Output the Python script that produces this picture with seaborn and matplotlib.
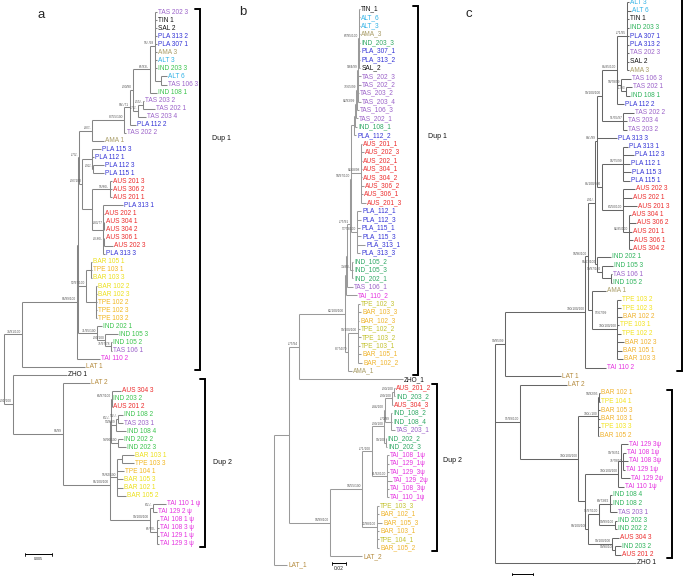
import matplotlib
matplotlib.use("Agg")
import matplotlib.pyplot as plt
import seaborn as sns
from matplotlib.collections import LineCollection

# ---- trees (newick-like, branch lengths in tree units) ----
TREE_A = (
    "(" * 11 + "TAS 202 3:2,TIN 1:2,SAL 2:2,PLA 313 2:2,PLA 307 1:2,AMA 3:2,ALT 3:2,IND 203 3:2,"
    "(ALT 6:6,TAS 106 3:6):6)55/-/98:5,IND 108 1:7)65/83/-:17,"
    "((TAS 203 2:1,TAS 202 1:12)-/55/-:5,TAS 203 4:8)-/72/-:5)-/90/90:3,PLA 112 2:6)90/-/71:6,"
    "TAS 202 2:2)87/55/100:32,AMA 1:12)-/87/-:13,"
    "((PLA 115 3:9,PLA 112 1:2,(PLA 112 3:11,PLA 115 1:11)-/92/-:1):10,"
    "((AUS 201 3:2,AUS 306 2:2,AUS 201 1:2)55/80/-:18,(PLA 313 1:20,AUS 202 1:1,"
    "(AUS 304 1:0.5,AUS 304 2:0.5)-/83/77:1,(AUS 306 1:0.5,AUS 202 3:9)-/0.80/-:1,PLA 313 3:2):11):10)-/97/100:3)-/73/-:1,"
    "((BAR 105 1:1,TPE 103 1:1,BAR 103 3:1):5,(BAR 102 2:1,BAR 102 3:1,TPE 102 2:1,TPE 102 3:1,TPE 103 2:1):10)52/97/100:8,"
    "(IND 202 1:5,(IND 105 3:13,(IND 105 2:1,TAS 106 1:1)75/97/78:6)-/99/100:8)71/95/100:19):1,"
    "TAI 110 2:23)96/99/100:55,LAT 1:63)76/91/100:18,"
    "(ZHO 1:54,(LAT 2:27," + "(" * 4 + "AUS 304 3:9,IND 203 2:0.3,AUS 201 2:0.3)66/97/100:1,"
    "((IND 108 2:5,TAS 203 1:5)53/-/-:2,IND 108 4:10)53/83/9:5,(IND 202 2:5,IND 202 3:8)54/90/100:7)63/-/-:0.5,"
    "((BAR 103 1:12,TPE 103 3:12):5,TPE 104 1:7,BAR 105 3:6,BAR 102 1:6,BAR 105 2:9)55/82/100:6.5):0.5,"
    "((TAI 110 1 ψ:13,TAI 129 2 ψ:4)63/-/-:3,(TAI 108 1 ψ:2,TAI 108 3 ψ:2,TAI 129 1 ψ:2,TAI 129 3 ψ:2)65/70/-:7)"
    "99/100/100:40)96/100/100:47)96/99:50)-/91/100:9)"
)

TREE_B = (
    "(" * 14 + "TIN_1:1,ALT_6:1,ALT_3:1,AMA_3:1,IND_203_3:1,PLA_307_1:1,PLA_313_2:1,SAL_2:1)67/95/100:1,"
    "TAS_202_3:3,TAS_202_2:3,TAS_203_2:1,TAS_203_4:3)5/84/99:1,TAS_106_3:2)77/65/99:1,TAS_202_1:2)82/93/99:1,"
    "IND_108_1:2):1,PLA_112_2:2):3,"
    "(AUS_201_1:1,AUS_202_3:3,AUS_202_1:1,AUS_304_1:1,AUS_304_2:1,AUS_306_2:3,AUS_306_1:2,AUS_201_3:5)82/68/98:10,"
    "(PLA_112_1:4,PLA_112_3:4,PLA_115_1:3,PLA_115_3:4,PLA_313_1:8,PLA_313_3:3)57/73/100:6)50/97/100:1,"
    "(IND_105_2:1,IND_105_3:1,IND_202_1:1)70/85/-:2)-/75/91:3,TAS_106_1:6):1,TAI_110_2:11):1,"
    "((TPE_102_3:2,BAR_103_3:3,BAR_102_3:1,TPE_102_2:2,TPE_103_2:3,TPE_103_1:2,BAR_105_1:3,BAR_102_2:4)99/100/100:10,"
    "AMA_1:4)87/74/70:3)62/100/100:46,ZHO_1:104)-/75/94:10,"
    + "(" * 7 + "AUS_201_2:1,IND_203_2:1)-/90/100:2,AUS_304_3:1)-/99/100:7,"
    "(IND_108_2:1,IND_108_4:1,TAS_203_1:4)-/70/99:6)-/84/100:1,"
    "(IND_202_2:0.5,IND_202_3:1)99/100:2)-/99/100:12,"
    "(TAI_108_1ψ:2,TAI_129_1ψ:2,TAI_129_3ψ:2,TAI_129_2ψ:5,TAI_108_3ψ:2,TAI_110_1ψ:2)61/92/100:15)-/71/100:10,"
    "(TPE_103_3:2,BAR_102_1:2,BAR_105_3:5,BAR_103_1:2,TPE_104_1:2,BAR_105_2:2)72/98/100:15)93/55/100:32,"
    "LAT_2:32)93/99/100:41):15,LAT_1:13)"
)

TREE_C = (
    "(" * 9 + "ALT 3:2,ALT 6:4,TIN 1:2,IND 203 3:2,PLA 307 1:2,PLA 313 2:2,TAS 202 3:2,SAL 2:2,AMA 3:2)-/71/95:10,"
    "(TAS 106 3:10,(TAS 202 1:6,IND 108 1:4)-/-/93:5)50/78/99:4,PLA 112 2:7)86/85/100:15,"
    "(TAS 202 2:11,TAS 203 4:4,TAS 203 2:4)51/55/97:21)99/100/100:5,PLA 313 3:20,"
    "((PLA 313 1:5,PLA 112 3:11,PLA 112 1:7,PLA 115 3:8,PLA 115 1:7)94/75/99:21,"
    "(AUS 202 3:12,AUS 202 1:9,AUS 201 3:14,(AUS 304 1:2,AUS 306 2:7,AUS 201 1:3,AUS 306 1:4,AUS 304 2:3)82/85/100:6)"
    "63/50/100:21)86/100/100:5)80/-/99:2,"
    "(IND 202 1:14,(IND 105 3:11,(TAS 106 1:1,IND 105 2:1):9)99/97/100:5)96/67/100:2)-/91/-:7,"
    "(AMA 1:14,(TPE 103 2:4,TPE 102 3:4,BAR 102 2:5,TPE 103 1:2,TPE 102 2:4,BAR 102 3:7,BAR 105 1:5,BAR 103 3:6)"
    "100/100/100:25)97/67/99:4)93/96/100:3,TAI 110 2:21)100/100/100:80,LAT 1:56)99/95/99:10,"
    "(LAT 2:47,(((BAR 102 1:1,TPE 104 1:1)50/82/95:1,BAR 105 3:2,BAR 103 1:2,TPE 103 3:2,BAR 105 2:1)100/-/100:20,"
    "(((TAI 129 3ψ:7,(TAI 108 1ψ:3,TAI 108 3ψ:5,TAI 129 1ψ:2)75/78/50:2,TAI 129 2ψ:9)99/76/51:3,TAI 110 1ψ:6)100/100/100:33,"
    "(((IND 108 4:2,IND 108 2:2,TAS 203 1:7)69/73/62:11,(IND 202 3:2,IND 202 2:2)99/99/100:16)95/97/100:11,"
    "(AUS 304 3:7,(IND 203 2:6,AUS 201 2:6)99/90/100:3)99/100/100:24)90/100/100:3):7)100/100/100:58)95/99/100:25,"
    "ZHO 1:141)"
)

PAL_A = {"TAS": "#9b62c9", "PLA": "#3434d6", "AUS": "#ec2b2b", "IND": "#3cc44e", "ALT": "#30b2e6",
         "AMA": "#a89c66", "BAR": "#ece01a", "TPE": "#f2b61e", "TAI": "#e532e0", "LAT": "#b48a3c"}
PAL_B = dict(PAL_A, IND="#2fa864", TPE="#c3c22e", BAR="#efb42c")
PAL_C = dict(PAL_A, IND="#2fb45c", TPE="#f2e31c", BAR="#f0b22c")

# (first tip, last tip, bracket x px, label, label x, label y)
BRACKETS_A = [("TAS 202 3", "LAT 1", 200, "Dup 1", 212, 139),
              ("LAT 2", "TAI 129 3 ψ", 205, "Dup 2", 213, 462)]
BRACKETS_B = [("TIN_1", "AMA_1", 418, "Dup 1", 428, 137),
              ("AUS_201_2", "BAR_105_2", 437, "Dup 2", 443, 461)]
BRACKETS_C = [("ALT 3", "TAI 110 2", 682, "", 0, 0),
              ("BAR 102 1", "AUS 201 2", 672, "", 0, 0)]

# scale bars: (label, length in tree units)
SCALE_A = ("0.005", 27)
SCALE_B = ("0.02", 14)
SCALE_C = ("", 21)

# support labels that sit right of their node (below the branch) or shifted up
NUDGE_C = {"97/67/99": (16, 6), "99/76/51": (0, -5), "75/78/50": (0, 3)}


def parse_newick(s):
    assert s.count("(") == s.count(")"), "unbalanced tree string"
    pos = 0

    def node():
        nonlocal pos
        children = []
        if s[pos] == "(":
            pos += 1
            children.append(node())
            while s[pos] == ",":
                pos += 1
                children.append(node())
            pos += 1  # ')'
        start = pos
        while pos < len(s) and s[pos] not in ":,()":
            pos += 1
        name = s[start:pos].strip()
        length = 0.0
        if pos < len(s) and s[pos] == ":":
            pos += 1
            start = pos
            while pos < len(s) and s[pos] not in ",()":
                pos += 1
            length = float(s[start:pos])
        return {"name": name, "length": length, "children": children}

    return node()


def layout(tree):
    tips = []

    def walk(n, depth):
        n["x"] = depth + n["length"]
        if not n["children"]:
            n["i"] = len(tips)
            tips.append(n)
        else:
            for c in n["children"]:
                walk(c, n["x"])
            n["i"] = (n["children"][0]["i"] + n["children"][-1]["i"]) / 2
    walk(tree, 0.0)
    return tips


def draw_panel(ax, newick, pal, root_px, top_px, dy, brackets, scale, scale_pos,
               letter, letter_pos, line_col, nudge=None):
    nudge = nudge or {}
    tree = parse_newick(newick)
    tips = layout(tree)
    X = lambda v: root_px + v
    Y = lambda i: top_px + i * dy

    segs = []
    internal = []

    def collect(n):
        if not n["children"]:
            return
        c0, c1 = n["children"][0], n["children"][-1]
        segs.append([(X(n["x"]), Y(c0["i"])), (X(n["x"]), Y(c1["i"]))])
        for c in n["children"]:
            segs.append([(X(n["x"]), Y(c["i"])), (X(c["x"]), Y(c["i"]))])
            collect(c)
        if n["name"]:
            internal.append(n)
    collect(tree)
    ax.add_collection(LineCollection(segs, colors=line_col, linewidths=0.75, capstyle="butt"))

    for t in tips:
        col = pal.get(t["name"][:3], "#111111")
        ax.text(X(t["x"]) + 1.2, Y(t["i"]), t["name"], fontsize=4.7, color=col,
                ha="left", va="center")
    for n in internal:
        ddx, ddy = nudge.get(n["name"], (0, 0))
        ax.text(X(n["x"]) - 0.8 + ddx, Y(n["i"]) - 0.8 + ddy, n["name"], fontsize=2.3,
                color="#555555", ha="right", va="bottom")

    index = {t["name"]: t["i"] for t in tips}
    for first, last, bx, lab, lx, ly in brackets:
        y0, y1 = Y(index[first]) - 3.5, Y(index[last]) + 3.5
        ax.plot([bx - 5, bx, bx, bx - 5], [y0, y0, y1, y1], color="black", lw=1.4,
                solid_joinstyle="miter")
        if lab:
            ax.text(lx, ly, lab, fontsize=5, color="#111111", ha="left", va="center")

    slab, slen = scale
    sx, sy = scale_pos
    ax.plot([sx, sx + slen], [sy, sy], color="black", lw=0.7)
    ax.plot([sx, sx], [sy - 1.5, sy + 1.5], color="black", lw=0.6)
    ax.plot([sx + slen, sx + slen], [sy - 1.5, sy + 1.5], color="black", lw=0.6)
    if slab:
        ax.text(sx + slen / 2, sy + 3, slab, fontsize=3.6 if slen < 20 else 2.6,
                ha="center", va="top", color="#222222")

    ax.text(letter_pos[0], letter_pos[1], letter, fontsize=9.5, ha="center", va="center")


sns.set_theme(style="white")
plt.rcParams["font.family"] = ["Liberation Sans", "DejaVu Sans"]

fig = plt.figure(figsize=(6.85, 5.76), dpi=100)
ax = fig.add_axes([0, 0, 1, 1])
ax.set_xlim(0, 685)
ax.set_ylim(576, 0)
ax.axis("off")

draw_panel(ax, TREE_A, PAL_A, 4, 12, 8.06, BRACKETS_A, SCALE_A, (25, 554), "a", (41, 15), "#858585")
draw_panel(ax, TREE_B, PAL_B, 274, 9, 8.42, BRACKETS_B, SCALE_B, (332, 563), "b", (243, 12), "#9a9a9a")
draw_panel(ax, TREE_C, PAL_C, 495, 2, 8.5, BRACKETS_C, SCALE_C, (512, 574), "c", (469, 14), "#666666",
           nudge=NUDGE_C)

fig.savefig("out.png", dpi=100, facecolor="white")
